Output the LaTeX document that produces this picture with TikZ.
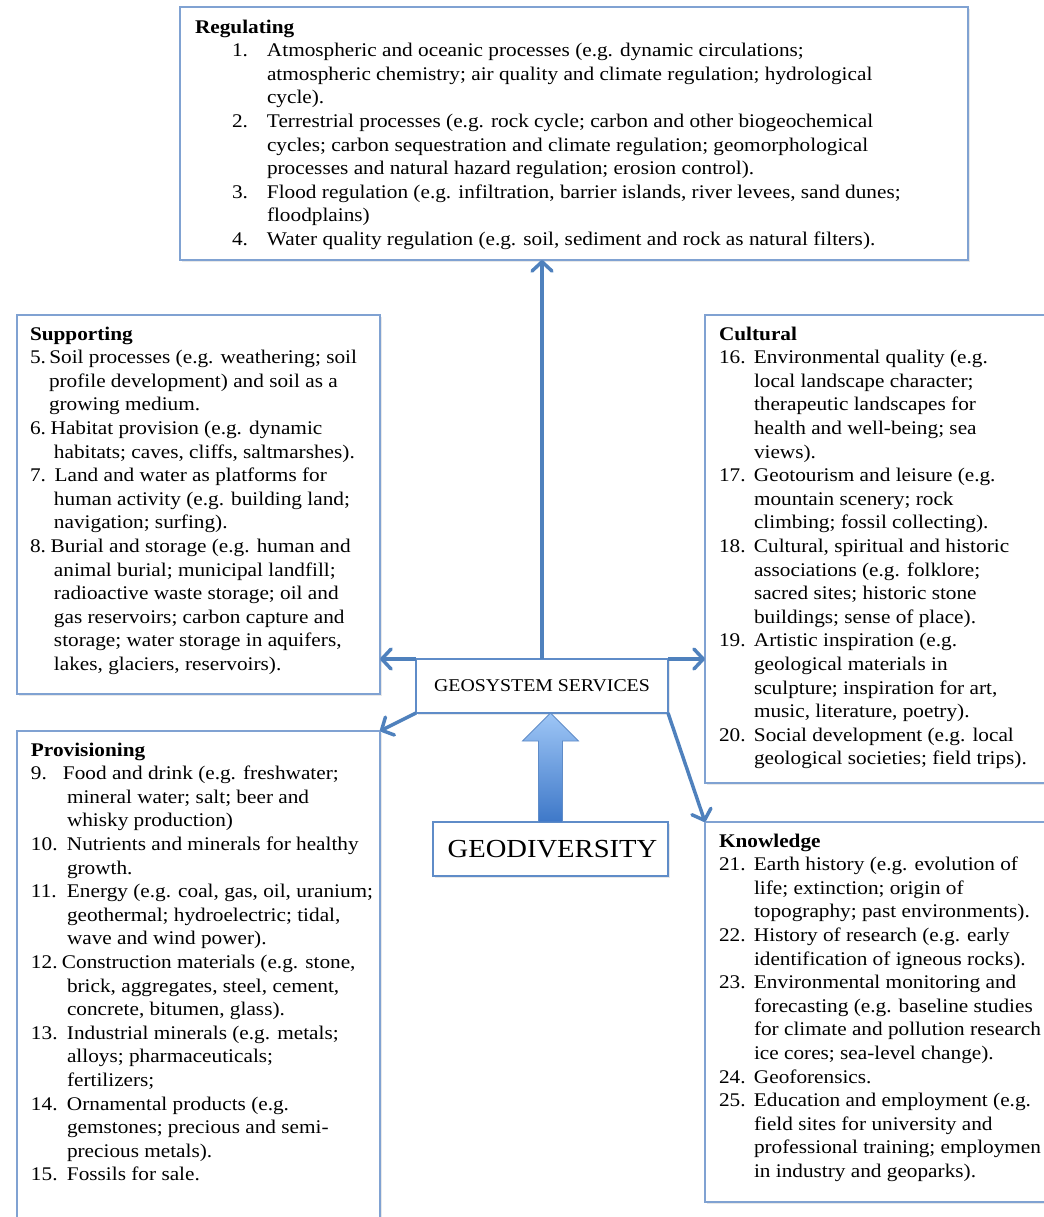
\documentclass[tikz,border=0pt]{standalone}
\usepackage{fontspec}
\setmainfont{Liberation Serif}[FakeStretch=1.1]
\usetikzlibrary{arrows.meta,calc,shadows}
\definecolor{arrowblue}{RGB}{79,129,189}
\definecolor{boxblue}{RGB}{128,162,210}
\definecolor{gsblue}{RGB}{95,140,200}
\definecolor{bigtop}{RGB}{158,198,246}
\definecolor{bigbot}{RGB}{62,120,200}
\newcommand{\bodyfont}{\fontsize{14.5}{17.7}\selectfont}
\newcommand{\nit}[3]{\makebox[#1][l]{#2}#3}
\newcommand{\cnt}[2]{\hspace*{#1}#2}
\newcommand{\fl}{\rule{0pt}{12pt}}
\begin{document}
\begin{tikzpicture}[x=0.75pt,y=-0.75pt,
  box/.style={draw=boxblue,line width=1.4pt,fill=white,rectangle,inner sep=0pt,outer sep=0pt,anchor=north west,
    drop shadow={opacity=0.18,shadow xshift=1.3pt,shadow yshift=-1.3pt}},
  cbox/.style={box,draw=gsblue,line width=1.6pt,anchor=center},
  txt/.style={anchor=north west,inner sep=0pt,outer sep=0pt,align=left,font=\bodyfont},
  conn/.style={draw=arrowblue,line width=2.6pt,-{Straight Barb[length=7pt,width=15pt,round]}},
  bigarrow/.style={top color=bigtop,bottom color=bigbot,draw=gsblue,line width=0.6pt}]
\useasboundingbox (0,0) rectangle (1044,1217);
\fill[white] (0,0) rectangle (1044,1217);
\clip (0,0) rectangle (1044,1217);

% boxes
\node[box,minimum width=591pt,minimum height=189.75pt] (reg) at (180,7) {};
\node[box,minimum width=272.25pt,minimum height=284.25pt] (sup) at (17,315) {};
\node[box,minimum width=258.75pt,minimum height=351pt] (cul) at (705,315) {};
\node[box,minimum width=272.25pt,minimum height=370.5pt] (pro) at (17,731) {};
\node[box,minimum width=258.75pt,minimum height=285pt] (kno) at (705,822) {};
\node[cbox,minimum width=189pt,minimum height=40.5pt,font=\fontsize{13.5}{16}\selectfont] (gs) at (542,686) {GEOSYSTEM SERVICES};
\node[cbox,minimum width=176.25pt,minimum height=40.5pt,font=\fontsize{19.5}{22}\selectfont] (geo) at (550.5,849) {\hspace*{3pt}GEODIVERSITY};

% connectors
\draw[conn] (gs.north) -- (gs.north |- reg.south);
\draw[conn] (gs.north west) -- (gs.north west -| sup.east);
\draw[conn] (gs.north east) -- (gs.north east -| cul.west);
\draw[conn] (gs.south west) -- (pro.north east);
\draw[conn] (gs.south east) -- (kno.north west);
\shade[bigarrow] ($(geo.north)+(-12,0)$) -- ++(0,-81) -- ++(-16,0) -- ($(geo.north |- gs.south)$)
  -- ++(28,28) -- ++(-16,0) -- ++(0,81) -- cycle;

% texts
\node[txt] (regtxt) at (195,17) {\fl\textbf{Regulating}\\
\nit{54pt}{\hspace*{27.75pt}1.}{Atmospheric and oceanic processes (e.g. dynamic circulations;}\\
\cnt{54pt}{atmospheric chemistry; air quality and climate regulation; hydrological}\\
\cnt{54pt}{cycle).}\\
\nit{54pt}{\hspace*{27.75pt}2.}{Terrestrial processes (e.g. rock cycle; carbon and other biogeochemical}\\
\cnt{54pt}{cycles; carbon sequestration and climate regulation; geomorphological}\\
\cnt{54pt}{processes and natural hazard regulation; erosion control).}\\
\nit{54pt}{\hspace*{27.75pt}3.}{Flood regulation (e.g. infiltration, barrier islands, river levees, sand dunes;}\\
\cnt{54pt}{floodplains)}\\
\nit{54pt}{\hspace*{27.75pt}4.}{Water quality regulation (e.g. soil, sediment and rock as natural filters).}};

\node[txt] (suptxt) at (30,324) {\fl\textbf{Supporting}\\
\nit{14.5pt}{5.}{Soil processes (e.g. weathering; soil}\\
\cnt{14.25pt}{profile development) and soil as a}\\
\cnt{14.25pt}{growing medium.}\\
\nit{15.5pt}{6.}{Habitat provision (e.g. dynamic}\\
\cnt{18pt}{habitats; caves, cliffs, saltmarshes).}\\
\nit{18.5pt}{7.}{Land and water as platforms for}\\
\cnt{18pt}{human activity (e.g. building land;}\\
\cnt{18pt}{navigation; surfing).}\\
\nit{15.5pt}{8.}{Burial and storage (e.g. human and}\\
\cnt{18pt}{animal burial; municipal landfill;}\\
\cnt{18pt}{radioactive waste storage; oil and}\\
\cnt{18pt}{gas reservoirs; carbon capture and}\\
\cnt{18pt}{storage; water storage in aquifers,}\\
\cnt{18pt}{lakes, glaciers, reservoirs).}};

\node[txt] (cultxt) at (719,324) {\fl\textbf{Cultural}\\
\nit{26.25pt}{16.}{Environmental quality (e.g.}\\
\cnt{26.25pt}{local landscape character;}\\
\cnt{26.25pt}{therapeutic landscapes for}\\
\cnt{26.25pt}{health and well-being; sea}\\
\cnt{26.25pt}{views).}\\
\nit{26.25pt}{17.}{Geotourism and leisure (e.g.}\\
\cnt{26.25pt}{mountain scenery; rock}\\
\cnt{26.25pt}{climbing; fossil collecting).}\\
\nit{26.25pt}{18.}{Cultural, spiritual and historic}\\
\cnt{26.25pt}{associations (e.g. folklore;}\\
\cnt{26.25pt}{sacred sites; historic stone}\\
\cnt{26.25pt}{buildings; sense of place).}\\
\nit{26.25pt}{19.}{Artistic inspiration (e.g.}\\
\cnt{26.25pt}{geological materials in}\\
\cnt{26.25pt}{sculpture; inspiration for art,}\\
\cnt{26.25pt}{music, literature, poetry).}\\
\nit{26.25pt}{20.}{Social development (e.g. local}\\
\cnt{26.25pt}{geological societies; field trips).}};

\node[txt] (protxt) at (31,740) {\fl\textbf{Provisioning}\\
\nit{24pt}{9.}{Food and drink (e.g. freshwater;}\\
\cnt{27pt}{mineral water; salt; beer and}\\
\cnt{27pt}{whisky production)}\\
\nit{27pt}{10.}{Nutrients and minerals for healthy}\\
\cnt{27pt}{growth.}\\
\nit{27pt}{11.}{Energy (e.g. coal, gas, oil, uranium;}\\
\cnt{27pt}{geothermal; hydroelectric; tidal,}\\
\cnt{27pt}{wave and wind power).}\\
\nit{23.25pt}{12.}{Construction materials (e.g. stone,}\\
\cnt{27pt}{brick, aggregates, steel, cement,}\\
\cnt{27pt}{concrete, bitumen, glass).}\\
\nit{27pt}{13.}{Industrial minerals (e.g. metals;}\\
\cnt{27pt}{alloys; pharmaceuticals;}\\
\cnt{27pt}{fertilizers;}\\
\nit{27pt}{14.}{Ornamental products (e.g.}\\
\cnt{27pt}{gemstones; precious and semi-}\\
\cnt{27pt}{precious metals).}\\
\nit{27pt}{15.}{Fossils for sale.}};

\node[txt] (knotxt) at (719,831) {\fl\textbf{Knowledge}\\
\nit{26.25pt}{21.}{Earth history (e.g. evolution of}\\
\cnt{26.25pt}{life; extinction; origin of}\\
\cnt{26.25pt}{topography; past environments).}\\
\nit{26.25pt}{22.}{History of research (e.g. early}\\
\cnt{26.25pt}{identification of igneous rocks).}\\
\nit{26.25pt}{23.}{Environmental monitoring and}\\
\cnt{26.25pt}{forecasting (e.g. baseline studies}\\
\cnt{26.25pt}{for climate and pollution research}\\
\cnt{26.25pt}{ice cores; sea-level change).}\\
\nit{26.25pt}{24.}{Geoforensics.}\\
\nit{26.25pt}{25.}{Education and employment (e.g.}\\
\cnt{26.25pt}{field sites for university and}\\
\cnt{26.25pt}{professional training; employmen}\\
\cnt{26.25pt}{in industry and geoparks).}};
\end{tikzpicture}
\end{document}
